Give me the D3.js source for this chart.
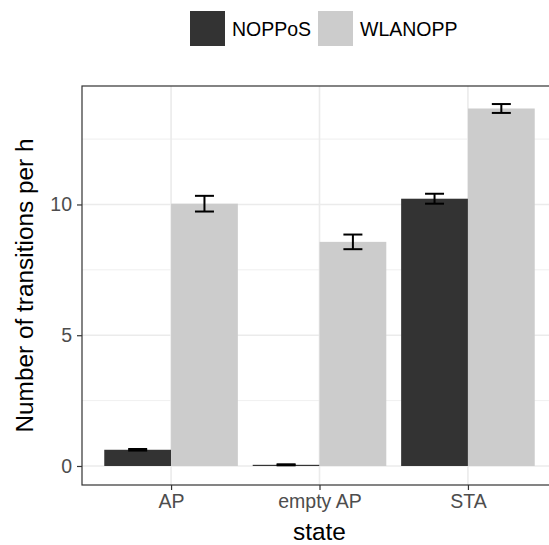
<!DOCTYPE html>
<html>
<head>
<meta charset="utf-8">
<script src="https://cdn.jsdelivr.net/npm/d3@7"></script>
<style>
  body { margin: 0; background: #fff; }
  svg { font-family: "Liberation Sans", Arial, Helvetica, sans-serif; }
</style>
</head>
<body>
<svg id="chart" width="549" height="545"></svg>
<script>
// data
const states = ['AP', 'empty AP', 'STA'];
const series = ['NOPPoS', 'WLANOPP'];
const seriesColors = ['#333333', '#cccccc'];
const noppos = [0.62, 0.045, 10.22];
const nopposSe = [0.03, 0.02, 0.19];
const wlanopp = [10.03, 8.57, 13.67];
const wlanoppSe = [0.3, 0.28, 0.17];
const yMajor = [0, 5, 10];
const yMinor = [2.5, 7.5, 12.5];

const rows = [];
states.forEach((s, i) => {
  rows.push({ state: s, group: 'NOPPoS', value: noppos[i], se: nopposSe[i] });
  rows.push({ state: s, group: 'WLANOPP', value: wlanopp[i], se: wlanoppSe[i] });
});

const svg = d3.select('#chart');
const panel = { left: 82, right: 557, top: 86, bottom: 485 };

const x = d3.scalePoint()
  .domain(states)
  .range([panel.left, panel.right])
  .padding(0.6);
const step = x.step();
const xInner = d3.scaleBand()
  .domain(series)
  .range([-0.45 * step, 0.45 * step]);
const y = d3.scaleLinear()
  .domain([-0.727, 14.53])
  .range([panel.bottom, panel.top]);
const color = d3.scaleOrdinal().domain(series).range(seriesColors);

// grid
const grid = svg.append('g');
grid.selectAll('.minor').data(yMinor).enter().append('line')
  .attr('x1', panel.left).attr('x2', panel.right)
  .attr('y1', d => y(d)).attr('y2', d => y(d))
  .attr('stroke', '#ebebeb').attr('stroke-width', 0.8);
grid.selectAll('.major').data(yMajor).enter().append('line')
  .attr('x1', panel.left).attr('x2', panel.right)
  .attr('y1', d => y(d)).attr('y2', d => y(d))
  .attr('stroke', '#ebebeb').attr('stroke-width', 1.6);
grid.selectAll('.xmajor').data(states).enter().append('line')
  .attr('x1', d => x(d)).attr('x2', d => x(d))
  .attr('y1', panel.top).attr('y2', panel.bottom)
  .attr('stroke', '#ebebeb').attr('stroke-width', 1.6);

// bars
svg.append('g').selectAll('rect').data(rows).enter().append('rect')
  .attr('x', d => x(d.state) + xInner(d.group))
  .attr('width', xInner.bandwidth())
  .attr('y', d => y(d.value))
  .attr('height', d => y(0) - y(d.value))
  .attr('fill', d => color(d.group));

// error bars
const half = 0.064 * step;
const eb = svg.append('g').attr('stroke', '#000').attr('stroke-width', 2).attr('fill', 'none');
rows.forEach(d => {
  const cx = x(d.state) + xInner(d.group) + xInner.bandwidth() / 2;
  const y1 = y(d.value + d.se), y2 = y(d.value - d.se);
  eb.append('line').attr('x1', cx).attr('x2', cx).attr('y1', y1).attr('y2', y2);
  eb.append('line').attr('x1', cx - half).attr('x2', cx + half).attr('y1', y1).attr('y2', y1);
  eb.append('line').attr('x1', cx - half).attr('x2', cx + half).attr('y1', y2).attr('y2', y2);
});

// panel border
svg.append('rect')
  .attr('x', panel.left).attr('y', panel.top)
  .attr('width', panel.right - panel.left).attr('height', panel.bottom - panel.top)
  .attr('fill', 'none').attr('stroke', '#333333').attr('stroke-width', 1.2);

// axes
const yAxis = svg.append('g')
  .attr('transform', `translate(${panel.left},0)`)
  .call(d3.axisLeft(y).tickValues(yMajor).tickSize(5).tickPadding(5).tickFormat(d3.format('d')));
const xAxis = svg.append('g')
  .attr('transform', `translate(0,${panel.bottom})`)
  .call(d3.axisBottom(x).tickSize(5).tickPadding(4));
[yAxis, xAxis].forEach(a => {
  a.select('.domain').remove();
  a.selectAll('.tick line').attr('stroke', '#333333').attr('stroke-width', 1.2);
  a.selectAll('.tick text')
    .attr('fill', '#4d4d4d')
    .style('font-size', '19.5px')
    .style('font-family', '"Liberation Sans", Arial, sans-serif');
});

// axis titles
svg.append('text')
  .attr('x', (panel.left + panel.right) / 2)
  .attr('y', 540)
  .attr('text-anchor', 'middle')
  .style('font-size', '24.4px')
  .text('state');
svg.append('text')
  .attr('transform', `translate(32.5,${(panel.top + panel.bottom) / 2}) rotate(-90)`)
  .attr('text-anchor', 'middle')
  .style('font-size', '24.4px')
  .text('Number of transitions per h');

// legend
const legendX = [190, 318];
const legend = svg.append('g');
series.forEach((s, i) => {
  legend.append('rect')
    .attr('x', legendX[i]).attr('y', 11)
    .attr('width', 35).attr('height', 35)
    .attr('fill', color(s));
  legend.append('text')
    .attr('x', legendX[i] + 42).attr('y', 35.5)
    .style('font-size', '19.5px')
    .text(s);
});
</script>
</body>
</html>
